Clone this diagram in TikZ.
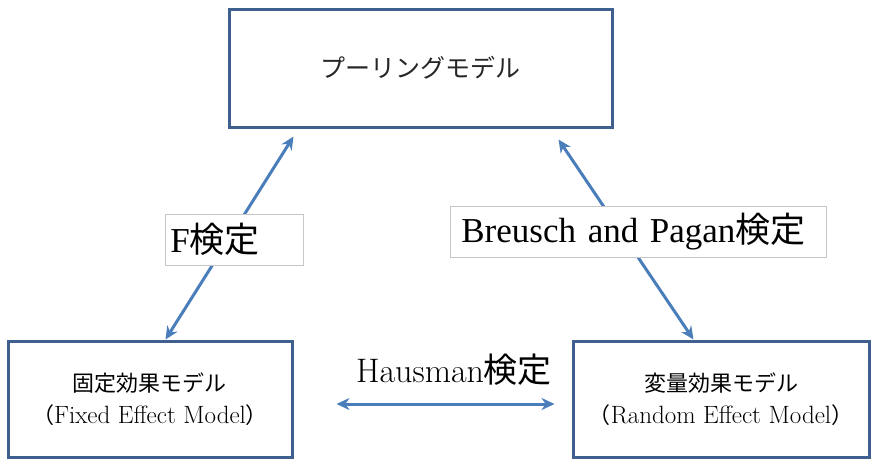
\documentclass[tikz,border=0pt]{standalone}
\usepackage{fontspec}
\usepackage{tikz}
\usetikzlibrary{positioning, arrows.meta}
\usepackage{xcolor}
\newfontfamily\jpfont{Noto Sans CJK JP}
\newfontfamily\timesfont{Liberation Serif}
\definecolor{boxblue}{RGB}{63,95,143}
\definecolor{linkblue}{RGB}{74,126,187}

\begin{document}
\begin{tikzpicture}[x=1pt, y=-1pt,
        model/.style={rectangle, draw=boxblue, line width=3pt, fill=white, align=center, text=black},
        testlabel/.style={rectangle, draw=black!22, line width=0.8pt, fill=white, minimum height=51pt, inner xsep=5pt, align=left, anchor=west, font=\fontsize{35}{39}\selectfont},
        link/.style={{Stealth[length=13pt, width=12pt]}-{Stealth[length=13pt, width=12pt]}, draw=linkblue, line width=3pt}
    ]
        \useasboundingbox (0,0) rectangle (873,459);

        % Model boxes
        \node[model, minimum width=383pt, minimum height=118pt, font=\fontsize{25}{30}\selectfont, text=black!85] (pool) at (420.5,68) {\jpfont プーリングモデル};
        \node[model, minimum width=284pt, minimum height=116pt, font=\fontsize{25}{32}\selectfont] (fixed) at (150,399) {{\jpfont\fontsize{22}{32}\selectfont 固定効果モデル}\\{\jpfont\fontsize{22}{32}\selectfont （}Fixed Effect Model{\jpfont\fontsize{22}{32}\selectfont ）}};
        \node[model, minimum width=296pt, minimum height=116pt, font=\fontsize{25}{32}\selectfont] (random) at (721,399) {{\jpfont\fontsize{22}{32}\selectfont 変量効果モデル}\\{\jpfont\fontsize{22}{32}\selectfont （}Random Effect Model{\jpfont\fontsize{22}{32}\selectfont ）}};

        % Arrow ends
        \coordinate (fLow) at ([xshift=159pt]fixed.north west);
        \coordinate (fHigh) at ([xshift=66pt, yshift=-8pt]pool.south west);
        \coordinate (bHigh) at ([xshift=-55pt, yshift=-11pt]pool.south east);
        \coordinate (bLow) at ([xshift=122pt]random.north west);
        \coordinate (hLeft) at ([xshift=43pt, yshift=-5pt]fixed.east);
        \coordinate (hRight) at ([xshift=-17pt, yshift=-5pt]random.west);

        % Arrows
        \draw[link] (fLow) -- (fHigh);
        \draw[link] (bHigh) -- (bLow);
        \draw[link] (hLeft) -- (hRight);

        % Test labels
        \node[testlabel, text width=128pt] (ftest) at (165,239.5) {{\timesfont F}{\jpfont 検定}};
        \node[testlabel, text width=354pt, inner xsep=11pt] (bptest) at (450,231.5) {{\timesfont Breusch and Pagan}{\jpfont 検定}};
        \node[font=\fontsize{34}{38}\selectfont] (htest) at (454,370) {Hausman{\jpfont 検定}};
    \end{tikzpicture}
\end{document}
